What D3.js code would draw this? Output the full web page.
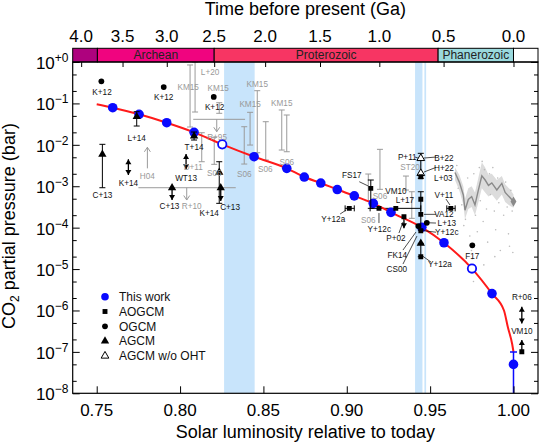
<!DOCTYPE html>
<html>
<head>
<meta charset="utf-8">
<script src="https://cdn.jsdelivr.net/npm/d3@7"></script>
<style>
  body { margin: 0; background: #fff; }
  svg { display: block; font-family: "Liberation Sans", Arial, Helvetica, sans-serif; }
</style>
</head>
<body>
<div id="chart"></div>
<script>
// ---- data ------------------------------------------------------------
const lumTicks  = [0.75, 0.80, 0.85, 0.90, 0.95, 1.00];
const timeTicks = [4.0, 3.5, 3.0, 2.5, 2.0, 1.5, 1.0, 0.5, 0.0];

// geological eons (Ga before present)
const eraNames = ["", "Archean", "Proterozoic", "Phanerozoic", ""];
const eraStart = [4.3, 3.8, 2.5, 0.541, 0.0];
const eraEnd   = [3.8, 2.5, 0.541, 0.0, -0.3];
const eraColors = ["#ae027e", "#f0047f", "#f73563", "#9ad9dd", "#ffffff"];

// glaciations (Ga): Huronian, Sturtian, Marinoan
const glacStart = [2.4, 0.717, 0.645];
const glacEnd   = [2.1, 0.660, 0.632];

// this work: solar luminosity, log10 pCO2 (bar)
const workLum  = [0.7596, 0.7754, 0.7920, 0.8084, 0.8253, 0.8444, 0.8640, 0.8745, 0.8844, 0.8943,
                  0.9045, 0.9159, 0.9265, 0.9450, 0.9583, 0.9751, 0.9871, 1.0000];
const workLogP = [-1.104, -1.263, -1.466, -1.698, -1.988, -2.287, -2.568, -2.778, -2.923, -3.080,
                  -3.232, -3.413, -3.630, -3.993, -4.365, -4.988, -5.592, -7.302];
const workOpen = [0,0,0,0,1,0,0,0,0,0,0,0,0,0,0,1,0,0];

// fitted curve
const fitLum  = [0.7500, 0.7596, 0.7754, 0.7920, 0.8084, 0.8253, 0.8444, 0.8640, 0.8745, 0.8844, 0.8943,
                 0.9045, 0.9159, 0.9265, 0.9450, 0.9583, 0.9751, 0.9871, 0.9943, 0.9966, 0.9992, 1.0000];
const fitLogP = [-1.02, -1.104, -1.263, -1.466, -1.698, -1.988, -2.287, -2.568, -2.778, -2.923, -3.080,
                 -3.232, -3.413, -3.630, -3.993, -4.365, -4.988, -5.592, -6.00, -6.40, -6.81, -7.00];

// Phanerozoic proxy compilation
const proxyLum  = [0.9649, 0.9675, 0.9699, 0.9709, 0.9729, 0.9749, 0.9769, 0.9789, 0.9810, 0.9830,
                   0.9850, 0.9870, 0.9900, 0.9930, 0.9950, 0.9980, 1.0000];
const proxyLogP = [-2.67, -2.90, -3.21, -3.58, -3.32, -3.25, -3.45, -3.10, -2.75, -2.85,
                   -2.98, -2.92, -3.09, -2.93, -3.15, -3.28, -3.37];
const proxyHi   = [-2.55, -2.72, -3.00, -3.30, -3.05, -3.00, -3.15, -2.80, -2.42, -2.55,
                   -2.72, -2.70, -2.85, -2.75, -2.95, -3.08, -3.20];
const proxyLo   = [-2.85, -3.10, -3.45, -3.80, -3.55, -3.50, -3.70, -3.40, -3.05, -3.15,
                   -3.25, -3.20, -3.35, -3.20, -3.38, -3.48, -3.52];
const proxyPts  = [[0.9660,-2.50],[0.9668,-3.05],[0.9690,-3.45],[0.9702,-3.95],[0.9712,-3.80],
                   [0.9725,-2.80],[0.9738,-4.20],[0.9748,-4.55],[0.9752,-4.75],[0.9756,-5.05],
                   [0.9762,-2.70],[0.9772,-3.70],[0.9783,-4.10],[0.9795,-2.55],[0.9801,-3.35],
                   [0.9812,-2.40],[0.9818,-3.85],[0.9826,-2.60],[0.9838,-3.55],[0.9845,-4.35],
                   [0.9856,-2.70],[0.9862,-3.20],[0.9876,-2.55],[0.9885,-3.60],[0.9893,-4.05],
                   [0.9905,-2.80],[0.9912,-3.40],[0.9921,-4.55],[0.9934,-3.00],[0.9941,-3.70],
                   [0.9953,-2.90],[0.9962,-3.50],[0.9970,-4.15],[0.9976,-4.45],[0.9984,-3.10],
                   [0.9992,-3.60],[0.9996,-4.60],[0.9888,-4.70],[0.9822,-4.90],[0.9760,-5.30]];

// previous model results: luminosity, log10 pCO2, kind
// sq = AOGCM, ci = OGCM, tr = AGCM, ot = AGCM without ocean heat transport
const refLum  = [0.7528, 0.7902, 0.8202, 0.7534, 0.7740, 0.8084, 0.7952, 0.8235, 0.8244,
                 0.9144, 0.9015, 0.9193, 0.9294, 0.9444, 0.9444, 0.9444, 0.9444, 0.9444,
                 0.9429, 0.9480, 0.9444, 0.9444, 0.9444, 0.9343, 0.9624, 0.9753, 1.0050];
const refLogP = [-0.466, -0.604, -0.845, -2.229, -1.321, -1.787, -3.036, -2.664, -3.036,
                 -3.051, -3.534, -3.534, -3.534, -3.316, -3.679, -2.326, -2.688, -2.771,
                 -3.961, -3.882, -4.075, -4.379, -4.703, -3.737, -3.534, -4.428, -6.997];
const refKind = ["ci","ci","ci","tr","tr","tr","tr","tr","tr",
                 "sq","sq","sq","sq","sq","sq","ot","ot","sq",
                 "ci","ci","sq","tr","sq","sq","sq","ci","sq"];

// vertical ranges: luminosity, low, high (log10 pCO2), grey = other proxies/estimates
const errLum  = [0.8060, 0.8090, 0.8235, 0.8130, 0.8205, 0.8385, 0.8420, 0.8463, 0.8514, 0.8610, 0.8640,
                 0.9129, 0.9199, 0.9355, 0.9390,
                 0.7534, 0.7740, 0.8084, 0.8235, 0.9144, 0.9444, 0.9444, 0.9444];
const errLo   = [-1.570, -1.208, -1.239, -2.408, -2.471, -2.464, -2.005, -2.191, -2.367, -2.126, -2.167,
                 -3.350, -3.075, -3.092, -3.775,
                 -3.036, -1.546, -1.884, -3.413, -3.534, -2.809, -4.058, -4.703];
const errHi   = [-0.072, 0.000, -0.983, -1.708, -1.819, -1.563, -1.215, -0.693, -1.442, -1.159, -1.280,
                 -2.705, -2.109, -2.754, -3.133,
                 -1.988, -1.200, -1.691, -2.408, -2.850, -2.205, -3.133, -4.379];
const errGrey = [1,1,1,1,1,1,1,1,1,1,1, 1,1,1,1, 0,0,0,0,0,0,0,0];

// arrows (limits): luminosity, from, to, double-headed, grey
const arrLum  = [0.7690, 0.8036, 0.7952, 0.8244, 0.9343, 1.0050, 1.0050, 0.7804, 0.8220, 0.8040];
const arrFrom = [-2.350, -2.222, -3.036, -3.036, -3.737, -5.911, -6.997, -2.568, -1.384, -3.036];
const arrTo   = [-2.729, -2.592, -3.333, -3.357, -4.017, -6.312, -6.715, -2.060, -1.684, -3.333];
const arrBoth = [1, 1, 0, 0, 0, 1, 0, 0, 0, 0];
const arrGrey = [0, 0, 0, 0, 0, 0, 0, 1, 1, 1];

// horizontal ranges: luminosity from, to, log10 pCO2, grey
const hLum0  = [0.8079, 0.7750, 0.8990, 0.9140, 0.9600];
const hLum1  = [0.8390, 0.8334, 0.9045, 0.9444, 0.9650];
const hLogP  = [-1.384, -3.036, -3.534, -3.534, -3.534];
const hGrey  = [1, 1, 0, 0, 0];

// reference labels
const labText = ["K+12","K+12","K+12","C+13","K+14","L+14","T+14","WT13","C+13","C+13","K+14",
                 "FS17","Y+12a","Y+12c","VM10","L+17","P+02","FK14","CS00","Y+12a","P+11","B+22",
                 "H+22","L+03","V+11","VA12","L+13","Y+12c","F17","R+06","VM10",
                 "L+20","KM15","KM15","KM15","KM15","KM15","R+95","D+11","S06","S06","S06","S06",
                 "S06","S06","H04","R+10","ST20"];
const labLum  = [0.7532,0.7902,0.8207,0.7534,0.7690,0.7740,0.8084,0.8036,0.7936,0.8300,0.8175,
                 0.9030,0.8919,0.9195,0.9295,0.9349,0.9295,0.9303,0.9300,0.9559,0.9363,0.9583,
                 0.9583,0.9579,0.9583,0.9583,0.9600,0.9600,0.9753,1.0050,1.0050,
                 0.8180,0.8049,0.8229,0.8420,0.8463,0.8610,0.8222,0.8079,0.8205,0.8385,0.8511,0.8640,
                 0.9199,0.9129,0.7804,0.8070,0.9379];
const labLogP = [-0.732,-0.853,-1.094,-3.213,-2.915,-1.829,-2.060,-2.809,-3.471,-3.495,-3.655,
                 -2.729,-3.792,-4.041,-3.116,-3.333,-4.258,-4.662,-5.007,-4.879,-2.302,-2.312,
                 -2.560,-2.800,-3.213,-3.679,-3.890,-4.120,-4.686,-5.684,-6.498,
                 -0.249,-0.611,-0.621,-1.022,-0.531,-0.998,-1.812,-2.529,-2.674,-2.713,-2.585,-2.408,
                 -3.237,-3.816,-2.746,-3.471,-2.529];
const labGrey = labText.map((d, i) => i >= 31 ? 1 : 0);

// leader lines from labels to markers
const leadLum0  = [0.9075, 0.8960, 0.9193, 0.9313, 0.9337, 0.9337, 0.9505, 0.9409, 0.9535, 0.9535, 0.9595, 0.9535, 0.9535, 0.9535];
const leadLogP0 = [-2.891, -3.671, -3.889, -4.130, -4.541, -4.879, -4.831, -2.295, -2.295, -2.545, -3.309, -3.679, -3.889, -4.110];
const leadLum1  = [0.9129, 0.8996, 0.9193, 0.9337, 0.9415, 0.9421, 0.9463, 0.9427, 0.9463, 0.9463, 0.9619, 0.9463, 0.9487, 0.9463];
const leadLogP1 = [-2.995, -3.575, -3.647, -3.865, -4.106, -4.203, -4.710, -2.319, -2.319, -2.657, -3.454, -3.679, -3.882, -4.075];

const legendText = ["This work", "AOGCM", "OGCM", "AGCM", "AGCM w/o OHT"];
const legendKind = ["work", "sq", "ci", "tr", "ot"];

// ---- layout ----------------------------------------------------------
const W = 540, H = 446;
const X0 = 72.7, X1 = 538, Y0 = 62, Y1 = 393.3, BAR = 48.3;
const GREY = "#9a9a9a", BLUE = "#0a0aff";

const svg = d3.select("#chart").append("svg").attr("width", W).attr("height", H);

const x = d3.scaleLinear().domain([0.7356, 1.0147]).range([X0, X1]);
const y = d3.scaleLog().domain([1, 1e-8]).range([Y0, Y1]);
const yl = v => y(Math.pow(10, v));
// faint young sun (Gough 1981)
const lumAt = t => 1 / (1 + 0.4 * t / 4.57);
const clampX = v => Math.max(X0, Math.min(X1, v));

svg.append("clipPath").attr("id", "plotclip")
   .append("rect").attr("x", X0).attr("y", Y0).attr("width", X1 - X0).attr("height", Y1 - Y0);
const plot = svg.append("g").attr("clip-path", "url(#plotclip)");

// glaciation bands
glacStart.forEach((t, i) => {
  const a = x(lumAt(t)), b = x(lumAt(glacEnd[i]));
  plot.append("rect").attr("x", a).attr("y", Y0).attr("width", b - a).attr("height", Y1 - Y0)
      .attr("fill", "#c8e4fb");
});

// proxy record
const proxy = proxyLum.map((L, i) => ({L, v: proxyLogP[i], hi: proxyHi[i], lo: proxyLo[i]}));
plot.append("path").datum(proxy)
    .attr("d", d3.area().x(d => x(d.L)).y0(d => yl(d.lo)).y1(d => yl(d.hi)))
    .attr("fill", "#dcdcdc");
plot.selectAll(".pp").data(proxyPts).join("circle")
    .attr("cx", d => x(d[0])).attr("cy", d => yl(d[1])).attr("r", 0.8).attr("fill", "#bdbdbd");
plot.append("path").datum(proxy)
    .attr("d", d3.line().x(d => x(d.L)).y(d => yl(d.v)))
    .attr("fill", "none").attr("stroke", "#8a8a8a").attr("stroke-width", 1.4);
plot.append("path")
    .attr("d", d3.symbol().type(d3.symbolDiamond).size(30)())
    .attr("transform", `translate(${x(proxyLum[proxyLum.length - 1])},${yl(proxyLogP[proxyLogP.length - 1])})`)
    .attr("fill", "#8a8a8a");

// error bars
function vbar(g, L, lo, hi, col) {
  const xx = x(L);
  g.append("line").attr("x1", xx).attr("x2", xx).attr("y1", yl(lo)).attr("y2", yl(hi))
   .attr("stroke", col).attr("stroke-width", 1);
  [lo, hi].forEach(v => g.append("line").attr("x1", xx - 3).attr("x2", xx + 3)
      .attr("y1", yl(v)).attr("y2", yl(v)).attr("stroke", col).attr("stroke-width", 1));
}
function head(g, xx, yy, dir, col, filled) {
  const p = `M${xx},${yy} L${xx - 3},${yy - 5 * dir} L${xx + 3},${yy - 5 * dir} Z`;
  if (filled) g.append("path").attr("d", p).attr("fill", col);
  else g.append("path").attr("d", `M${xx - 3},${yy - 4.5 * dir} L${xx},${yy} L${xx + 3},${yy - 4.5 * dir}`)
        .attr("fill", "none").attr("stroke", col).attr("stroke-width", 1);
}

errLum.forEach((L, i) => { if (errGrey[i]) vbar(plot, L, errLo[i], errHi[i], GREY); });
hLum0.forEach((L, i) => {
  const col = hGrey[i] ? GREY : "#000", yy = yl(hLogP[i]);
  plot.append("line").attr("x1", x(L)).attr("x2", x(hLum1[i])).attr("y1", yy).attr("y2", yy)
      .attr("stroke", col).attr("stroke-width", 1);
  if (!hGrey[i]) [L, hLum1[i]].forEach(v => plot.append("line")
      .attr("x1", x(v)).attr("x2", x(v)).attr("y1", yy - 3).attr("y2", yy + 3).attr("stroke", col));
});
arrLum.forEach((L, i) => {
  const col = arrGrey[i] ? GREY : "#000", xx = x(L);
  const a = yl(arrFrom[i]), b = yl(arrTo[i]), dir = Math.sign(b - a);
  plot.append("line").attr("x1", xx).attr("x2", xx).attr("y1", a).attr("y2", b)
      .attr("stroke", col).attr("stroke-width", arrGrey[i] ? 1 : 1.3);
  head(plot, xx, b, dir, col, !arrGrey[i]);
  if (arrBoth[i]) head(plot, xx, a, -dir, col, true);
});

// fitted curve
const fit = fitLum.map((L, i) => ({L, v: fitLogP[i]}));
plot.append("path").datum(fit)
    .attr("d", d3.line().x(d => x(d.L)).y(d => yl(d.v)).curve(d3.curveMonotoneX))
    .attr("fill", "none").attr("stroke", "#ff1a1a").attr("stroke-width", 2);

// present-day upper bound of this work
const last = workLum.length - 1;
plot.append("line").attr("x1", x(workLum[last])).attr("x2", x(workLum[last]))
    .attr("y1", yl(-7)).attr("y2", Y1).attr("stroke", BLUE).attr("stroke-width", 1.5);
plot.append("line").attr("x1", x(workLum[last]) - 3.5).attr("x2", x(workLum[last]) + 3.5)
    .attr("y1", yl(-7)).attr("y2", yl(-7)).attr("stroke", BLUE).attr("stroke-width", 1.5);

plot.selectAll(".work").data(workLum).join("circle")
    .attr("cx", d => x(d)).attr("cy", (d, i) => yl(workLogP[i]))
    .attr("r", (d, i) => workOpen[i] ? 4.2 : 4.8)
    .attr("fill", (d, i) => workOpen[i] ? "#fff" : BLUE)
    .attr("stroke", BLUE).attr("stroke-width", (d, i) => workOpen[i] ? 1.8 : 0);

// black ranges over the curve
errLum.forEach((L, i) => { if (!errGrey[i]) vbar(plot, L, errLo[i], errHi[i], "#000"); });

const symGen = {
  sq: d3.symbol().type(d3.symbolSquare).size(24),
  ci: d3.symbol().type(d3.symbolCircle).size(26),
  tr: d3.symbol().type(d3.symbolTriangle).size(30),
  ot: d3.symbol().type(d3.symbolTriangle).size(26)
};
refLum.forEach((L, i) => {
  const k = refKind[i];
  plot.append("path").attr("d", symGen[k]())
      .attr("transform", `translate(${x(L)},${yl(refLogP[i])})`)
      .attr("fill", k === "ot" ? "#fff" : "#000")
      .attr("stroke", k === "ot" ? "#000" : "none").attr("stroke-width", 1);
});

// leaders and labels
leadLum0.forEach((L, i) => {
  plot.append("line").attr("x1", x(L)).attr("y1", yl(leadLogP0[i]))
      .attr("x2", x(leadLum1[i])).attr("y2", yl(leadLogP1[i]))
      .attr("stroke", "#000").attr("stroke-width", 0.7);
});
plot.selectAll(".lab").data(labText).join("text")
    .attr("x", (d, i) => x(labLum[i])).attr("y", (d, i) => yl(labLogP[i]))
    .attr("dy", "0.35em").attr("text-anchor", "middle")
    .attr("font-size", 8.2).attr("fill", (d, i) => labGrey[i] ? "#999" : "#111")
    .text(d => d);

// ---- era bar ---------------------------------------------------------
eraStart.forEach((t, i) => {
  const a = clampX(x(lumAt(t))), b = clampX(x(lumAt(eraEnd[i])));
  svg.append("rect").attr("x", a).attr("y", BAR).attr("width", b - a).attr("height", Y0 - BAR)
     .attr("fill", eraColors[i]).attr("stroke", "#000").attr("stroke-width", 1);
  if (eraNames[i]) svg.append("text").attr("x", (a + b) / 2).attr("y", Y0 - 3)
     .attr("text-anchor", "middle").attr("font-size", 12).attr("fill", "#222").text(eraNames[i]);
});

// ---- axes ------------------------------------------------------------
const frame = svg.append("g");
const majorY = d3.range(0, -9, -1).map(k => Math.pow(10, k));
const minorY = [];
for (let k = -8; k < 0; k++) [2, 5].forEach(m => minorY.push(m * Math.pow(10, k)));

function ticks(axis, tr) {
  const g = frame.append("g").attr("transform", tr).call(axis);
  g.select(".domain").remove();
  g.selectAll("line").attr("stroke", "#000");
  g.selectAll("text").remove();
}
ticks(d3.axisLeft(y).tickValues(majorY).tickSize(-7), `translate(${X0},0)`);
ticks(d3.axisLeft(y).tickValues(minorY).tickSize(-4), `translate(${X0},0)`);
ticks(d3.axisRight(y).tickValues(majorY).tickSize(-7), `translate(${X1},0)`);
ticks(d3.axisRight(y).tickValues(minorY).tickSize(-4), `translate(${X1},0)`);
ticks(d3.axisBottom(x).tickValues(lumTicks).tickSize(-7), `translate(0,${Y1})`);
ticks(d3.axisTop(x).tickValues(timeTicks.map(lumAt)).tickSize(-5), `translate(0,${Y0})`);

frame.append("rect").attr("x", X0).attr("y", Y0).attr("width", X1 - X0).attr("height", Y1 - Y0)
     .attr("fill", "none").attr("stroke", "#000").attr("stroke-width", 1.2);

// tick labels
svg.selectAll(".xl").data(lumTicks).join("text")
   .attr("x", d => x(d)).attr("y", 416).attr("text-anchor", "middle")
   .attr("font-size", 17).text(d3.format(".2f"));
svg.selectAll(".tl").data(timeTicks).join("text")
   .attr("x", d => x(lumAt(d))).attr("y", 42).attr("text-anchor", "middle")
   .attr("font-size", 17).text(d3.format(".1f"));
majorY.forEach((v, i) => {
  const t = svg.append("text").attr("x", 68.5).attr("y", y(v) + 7).attr("text-anchor", "end")
               .attr("font-size", 17);
  t.append("tspan").text("10");
  t.append("tspan").attr("dy", -7).attr("font-size", 12).text(i === 0 ? "+0" : "\u2212" + i);
});

// axis titles
svg.append("text").attr("x", (X0 + X1) / 2).attr("y", 438).attr("text-anchor", "middle")
   .attr("font-size", 18).text("Solar luminosity relative to today");
svg.append("text").attr("x", (X0 + X1) / 2).attr("y", 15).attr("text-anchor", "middle")
   .attr("font-size", 18).text("Time before present (Ga)");
const yt = svg.append("text").attr("transform", "translate(15,226) rotate(-90)")
   .attr("text-anchor", "middle").attr("font-size", 18);
yt.append("tspan").text("CO");
yt.append("tspan").attr("font-size", 12).attr("dy", 4).text("2");
yt.append("tspan").attr("dy", -4).text(" partial pressure  (bar)");

// ---- legend ----------------------------------------------------------
const leg = svg.append("g");
legendText.forEach((s, i) => {
  const yy = 296.7 + i * 14.8, k = legendKind[i];
  if (k === "work") leg.append("circle").attr("cx", 105).attr("cy", yy).attr("r", 3.8).attr("fill", BLUE);
  else leg.append("path").attr("d", symGen[k]()).attr("transform", `translate(105,${yy})`)
          .attr("fill", k === "ot" ? "#fff" : "#000").attr("stroke", k === "ot" ? "#000" : "none");
  leg.append("text").attr("x", 119).attr("y", yy).attr("dy", "0.35em")
     .attr("font-size", 12).attr("fill", "#111").text(s);
});
</script>
</body>
</html>
